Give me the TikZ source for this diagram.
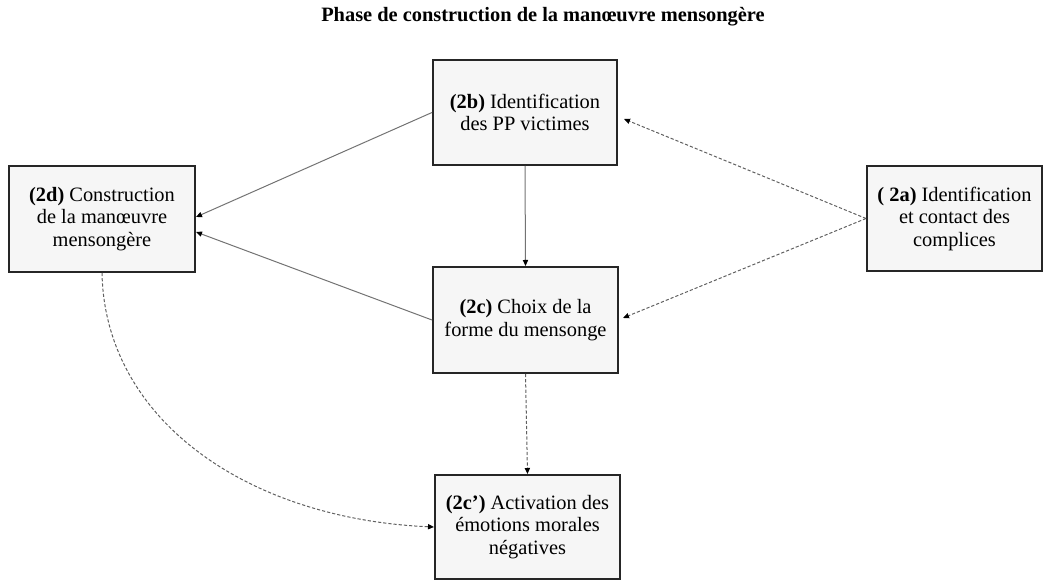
\documentclass[tikz,border=0pt]{standalone}
\usepackage{fontspec}
\setmainfont{Liberation Serif}
\usepackage{tikz}
\usetikzlibrary{arrows.meta}
\tikzset{>={Triangle[length=3pt,width=2.6pt,color=black]}}

\begin{document}
\begin{tikzpicture}[x=0.5pt, y=-0.5pt,
  phasebox/.style={draw=black!85, line width=1pt, fill=gray!7, inner sep=0pt,
    align=center, font=\fontsize{10.2}{11.25}\selectfont},
  solidlink/.style={->, draw=gray!90!black, line width=0.5pt},
  dashlink/.style={->, draw=gray!75!black, line width=0.5pt, dash pattern=on 1.6pt off 1pt}]

  \useasboundingbox (0,0) rectangle (1044,581);

  % title
  \node[font=\fontsize{10.2}{11}\selectfont\bfseries] (title) at (543,17)
    {Phase de construction de la manœuvre mensongère};

  % steps
  \node[phasebox, minimum width=92pt, minimum height=52.5pt] (b) at (525,112.5)
    {\textbf{(2b)} Identification\\des PP victimes};
  \node[phasebox, minimum width=93pt, minimum height=53pt] (d) at (102,219)
    {\textbf{(2d)} Construction\\de la manœuvre\\mensongère};
  \node[phasebox, minimum width=87.5pt, minimum height=52.5pt] (a) at (954.5,218.5)
    {\textbf{( 2a)} Identification\\et contact des\\complices};
  \node[phasebox, minimum width=92.5pt, minimum height=53pt] (c) at (525.5,320)
    {\textbf{(2c)} Choix de la\\forme du mensonge};
  \node[phasebox, minimum width=92.5pt, minimum height=52pt] (e) at (527.5,527)
    {\textbf{(2c’)} Activation des\\émotions morales\\négatives};

  % solid links
  \draw[solidlink] (b.west) -- ([yshift=1pt]d.east);
  \draw[solidlink] (c.west) -- ([yshift=-6.5pt]d.east);
  \draw[solidlink] (b.south) -- (c.north);

  % dashed links
  \draw[dashlink] (a.west) -- ([xshift=3pt,yshift=-3.25pt]b.east);
  \draw[dashlink] (a.west) -- ([xshift=2pt,yshift=1pt]c.east);
  \draw[dashlink] (c.south) -- (e.north);
  \draw[dashlink] (d.south) .. controls +(3,148) and +(-185,-8) .. (e.west);

\end{tikzpicture}
\end{document}
